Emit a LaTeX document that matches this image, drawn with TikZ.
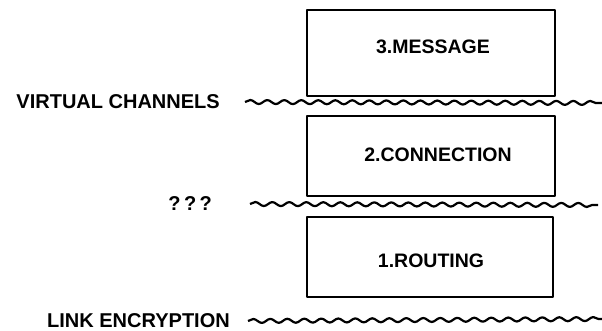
\documentclass[tikz,border=0pt]{standalone}
\usepackage{fontspec}
\setmainfont{Liberation Sans}
\usetikzlibrary{decorations.pathmorphing}

\begin{document}
\begin{tikzpicture}[x=1pt, y=-1pt, line join=round]
\tikzstyle{box_style} = [rectangle, draw=black, line width=2.4pt, minimum width=248pt, minimum height=82pt, inner sep=0pt]
\tikzstyle{text_style} = [font=\fontsize{19.5}{20}\selectfont\bfseries, inner sep=0pt]
\tikzstyle{side_style} = [font=\fontsize{20}{21}\selectfont\bfseries, inner sep=0pt, anchor=east]
\tikzstyle{wave_style} = [draw=black, line width=2.2pt, decorate, decoration={snake, segment length=17pt, amplitude=2pt}]

\useasboundingbox (0,0) rectangle (602,331);

\node[box_style, minimum height=86pt] (b3) at (431,53) {};
\node[box_style, minimum height=80pt] (b2) at (431,156) {};
\node[box_style, minimum width=246pt, minimum height=80pt] (b1) at (430,257) {};

\node[text_style] (t3) at (433,47) {3.MESSAGE};
\node[text_style] (t2) at (438,155) {2.CONNECTION};
\node[text_style] (t1) at (431,261) {1.ROUTING};

\node[side_style] (vc) at (220,102) {VIRTUAL CHANNELS};
\node[side_style] (qq) at (212,204) {?\,?\,?};
\node[side_style] (le) at (230,321) {LINK ENCRYPTION};

\coordinate (vcend) at (604,103);
\coordinate (qqend) at (598,205);
\coordinate (leend) at (604,319);

\draw[wave_style] ([xshift=25pt]vc.east) -- (vcend);
\draw[wave_style] ([xshift=38pt]qq.east) -- (qqend);
\draw[wave_style] ([xshift=18pt]le.east) -- (leend);
\end{tikzpicture}
\end{document}
